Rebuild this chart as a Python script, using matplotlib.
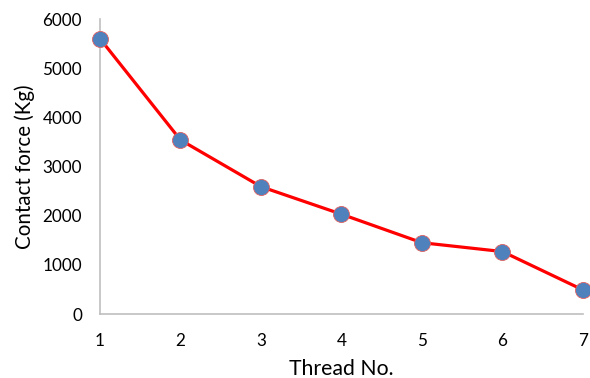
import matplotlib
matplotlib.use("Agg")
import matplotlib.pyplot as plt

threads = [1, 2, 3, 4, 5, 6, 7]
contact_force = [5600, 3540, 2590, 2030, 1450, 1270, 490]
y_ticks = [0, 1000, 2000, 3000, 4000, 5000, 6000]

plt.rcParams['font.family'] = ['Lato', 'DejaVu Sans']

fig = plt.figure(figsize=(5.9, 3.78), dpi=100)
ax = fig.add_axes([0.1695, 0.1693, 0.988 - 0.1695, 0.9497 - 0.1693])

ax.plot(threads, contact_force, color='#ff0000', linewidth=2.3,
        marker='o', markersize=11.5, markerfacecolor='#4f81bd',
        markeredgecolor='#e06060', markeredgewidth=0.6, clip_on=False, zorder=3)

ax.set_xlim(1, 7)
ax.set_ylim(0, 6000)
ax.set_xticks(threads)
ax.set_yticks(y_ticks)
ax.tick_params(axis='both', length=0, labelsize=12.3, colors='#000000')
ax.tick_params(axis='y', pad=13)
ax.tick_params(axis='x', pad=14)

for s in ['top', 'right']:
    ax.spines[s].set_visible(False)
for s in ['left', 'bottom']:
    ax.spines[s].set_color('#bfbfbf')
    ax.spines[s].set_linewidth(1.2)

ax.set_xlabel('Thread No.', fontsize=15.3, labelpad=7)
ax.set_ylabel('Contact force (Kg)', fontsize=14.8, labelpad=5)

fig.savefig('out.png', dpi=100)
